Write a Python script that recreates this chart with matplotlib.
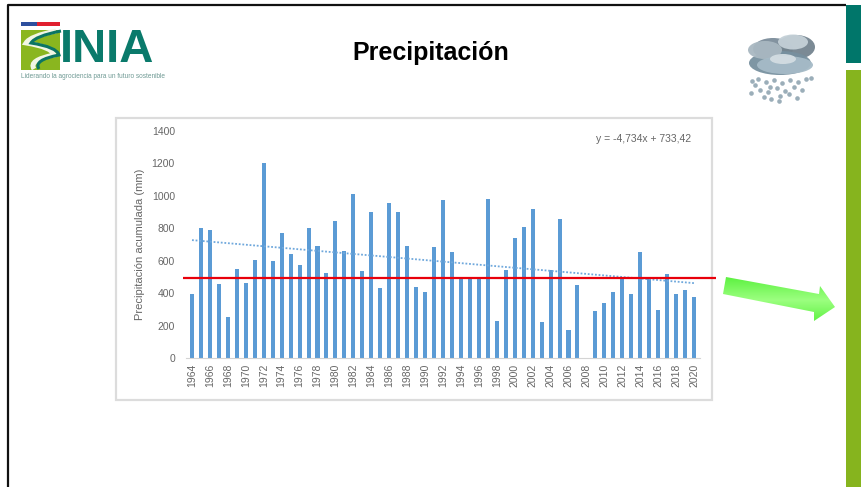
"""
Precipitacion slide: yearly rainfall bars with trend and 500 mm reference line.
Slide decoration is drawn in pixel coordinates on a full-figure axes.
"""

import numpy as np
import matplotlib
matplotlib.use('Agg')
import matplotlib.pyplot as plt
from matplotlib.patches import Rectangle, Polygon, Ellipse, PathPatch
from matplotlib.path import Path

W, H = 861, 487

years = list(range(1964, 2021))
precip = [393, 801, 793, 457, 252, 551, 465, 607, 1203, 598,
          770, 645, 574, 801, 693, 527, 848, 660, 1012, 535,
          904, 432, 959, 904, 693, 441, 410, 685, 975, 654,
          492, 492, 492, 984, 230, 543, 738, 810, 920, 221,
          543, 857, 174, 449, 0, 293, 338, 410, 492, 393,
          654, 492, 299, 518, 393, 418, 379]
trend_years = [1964, 2020]
trend_values = [728, 463]
reference_value = 494
y_ticks = [0, 200, 400, 600, 800, 1000, 1200, 1400]
x_ticks = list(range(1964, 2021, 2))

plt.rcParams['font.family'] = ['Liberation Sans', 'DejaVu Sans']

fig = plt.figure(figsize=(W / 100, H / 100), dpi=100, facecolor='white')

# slide layer in pixels, y going down
bg = fig.add_axes([0, 0, 1, 1])
bg.set_xlim(0, W)
bg.set_ylim(H, 0)
bg.axis('off')

# slide frame and right bands
bg.plot([7.5, 7.5, 846], [H, 4.5, 4.5], color='#111111', lw=1.6, solid_capstyle='butt')
bg.add_patch(Rectangle((846, 5), 15, 58, color='#00766a', lw=0))
bg.add_patch(Rectangle((846, 70), 15, H - 70, color='#86b41e', lw=0))

bg.text(431, 53, 'Precipitación', fontsize=18, fontweight='bold', color='black',
        ha='center', va='center')

# logo
bg.add_patch(Rectangle((21, 22), 16, 3.5, color='#2d4f9e', lw=0))
bg.add_patch(Rectangle((37, 22), 23, 3.5, color='#e0202f', lw=0))
bg.add_patch(Rectangle((21, 30), 39, 40, color='#8ab61f', lw=0))
s_x = [56, 30, 26, 52, 54, 28, 34]
s_y = [31, 36, 43, 47, 55, 60, 69]
s_path = Path(list(zip(s_x, s_y)),
              [Path.MOVETO, Path.CURVE3, Path.CURVE3, Path.CURVE3, Path.CURVE3, Path.CURVE3, Path.CURVE3])
bg.add_patch(PathPatch(s_path, fc='none', ec='#f2f6e4', lw=3.5))
s_path2 = Path([(p + 5, q) for p, q in zip(s_x, s_y)], s_path.codes)
bg.add_patch(PathPatch(s_path2, fc='none', ec='#0c7564', lw=2.2))
bg.text(60, 50, 'INIA', fontsize=34, fontweight='bold', color='#0a7a6b',
        ha='left', va='center', family='Liberation Sans')
bg.text(21, 77, 'Liderando la agrociencia para un futuro sostenible', fontsize=4.7,
        color='#6f9a94', ha='left', va='center')

# cloud icon
for cx, cy, w, h, c in [(773, 49, 40, 22, '#7c8d9b'), (796, 47, 38, 24, '#74848f'),
                        (780, 63, 62, 24, '#77909f'), (765, 50, 34, 18, '#a9b8c1'),
                        (793, 42, 30, 15, '#c4d0d7'), (785, 65, 56, 18, '#a6bbc7'),
                        (783, 59, 26, 10, '#d3dde2')]:
    bg.add_patch(Ellipse((cx, cy), w, h, color=c, lw=0, alpha=0.95))
drop_x = [752, 758, 766, 774, 782, 790, 798, 806, 811, 751, 760, 768, 777, 785, 794, 802, 755, 764,
          771, 780, 789, 797, 770, 779]
drop_y = [81, 79, 82, 80, 83, 80, 82, 79, 78, 93, 90, 92, 88, 91, 87, 90, 85, 97, 99, 96, 94, 98, 87, 101]
bg.scatter(drop_x, drop_y, s=11, color='#8aa0ad', lw=0, alpha=0.85)

# chart frame
bg.add_patch(Rectangle((116, 117.5), 596, 282, fc='white', ec='#dcdcdc', lw=1.6))

# green arrow with a soft gradient
arrow_pts = [(726, 277), (723, 294), (814, 312), (814, 321), (835, 307), (820, 286), (819, 294)]
grad = np.linspace(0, 1, 64).reshape(-1, 1)
img = bg.imshow(grad, extent=(720, 838, 325, 275), aspect='auto', zorder=3,
                cmap=matplotlib.colors.LinearSegmentedColormap.from_list('g', ['#58f03c', '#9cff80', '#58f03c']))
arrow = Polygon(arrow_pts, closed=True, transform=bg.transData, fc='none', ec='none')
bg.add_patch(arrow)
img.set_clip_path(arrow)
bg.set_xlim(0, W)
bg.set_ylim(H, 0)

# chart axes
left, right, top, bottom = 186, 700, 131, 358.3
ax = fig.add_axes([left / W, 1 - bottom / H, (right - left) / W, (bottom - top) / H])
ax.patch.set_alpha(0)
ax.bar(years, precip, width=0.45, color='#5b9bd5')
ax.plot(trend_years, trend_values, color='#6fa8dc', lw=1.3, ls=(0, (1, 1)))
# reference line runs past the plot on both sides
ax.plot([1963.9 - 0.9, 2021.9 + 0.5 - 0.0], [reference_value, reference_value], color='#e8000b', lw=1.6,
        clip_on=False, zorder=5, solid_capstyle='butt')

ax.set_xlim(1963.33, 2020.67)
ax.set_ylim(0, 1400)
ax.set_yticks(y_ticks)
ax.set_xticks(x_ticks)
ax.set_xticklabels(x_ticks, rotation=90)
ax.tick_params(axis='both', length=0, labelsize=7.5, labelcolor='#666666')
ax.tick_params(axis='y', pad=8)
ax.tick_params(axis='x', pad=4)
for side in ['top', 'right', 'left']:
    ax.spines[side].set_visible(False)
ax.spines['bottom'].set_color('#d4d4d4')
ax.set_ylabel('Precipitación acumulada (mm)', fontsize=8, color='#666666', labelpad=5)
ax.text(0.798, 0.966, 'y = -4,734x + 733,42', transform=ax.transAxes, fontsize=7.5,
        color='#666666', ha='left', va='center')

plt.savefig('out.png', dpi=100)
